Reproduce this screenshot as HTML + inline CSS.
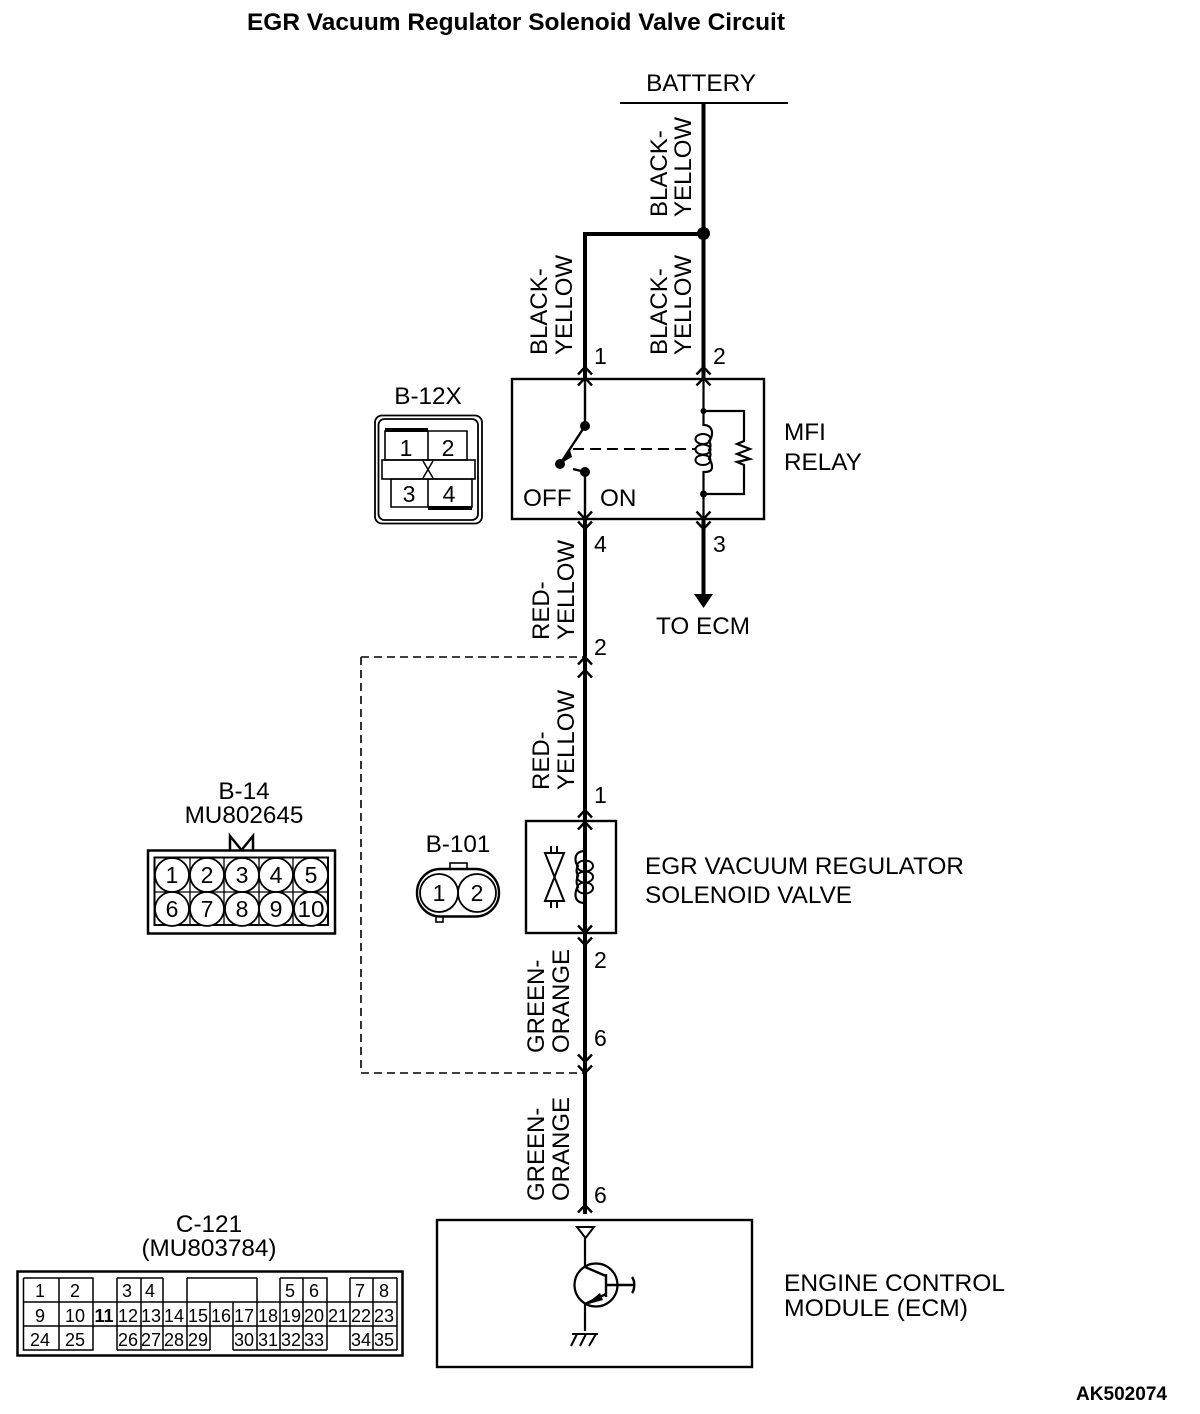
<!DOCTYPE html>
<html><head><meta charset="utf-8"><style>
html,body{margin:0;padding:0;background:#fff}
svg{display:block}
text{font-family:"Liberation Sans",sans-serif;font-size:24.3px;fill:#000}
.r text{font-size:24px}
.s{font-size:23px}.u{font-size:18px}
.m{text-anchor:middle}
</style></head><body>
<svg width="1200" height="1414" viewBox="0 0 1200 1414" xmlns="http://www.w3.org/2000/svg">
<defs>
<path id="up" d="M-7 7.500L0 0L7 7.500" fill="none" stroke="#000" stroke-width="2.400"/>
<path id="dn" d="M-7 -7.500L0 0L7 -7.500" fill="none" stroke="#000" stroke-width="2.400"/>
</defs>
<text x="247" y="30" style="font-weight:bold" textLength="538" lengthAdjust="spacingAndGlyphs">EGR Vacuum Regulator Solenoid Valve Circuit</text>
<text x="701" y="91" class="m">BATTERY</text>
<path d="M620 103H788" stroke="#000" stroke-width="2"/>
<g fill="none" stroke="#000" stroke-width="4">
<path d="M703.500 103V378M585 378V234H703"/>
<path d="M585 519V1214"/>
<path d="M703.500 519V598"/>
</g>
<circle cx="703.500" cy="233.500" r="6.500"/>
<path d="M694 594H713L703.500 608Z"/>
<g fill="none" stroke="#000" stroke-width="2">
<path d="M361 657H583M361 657V1073H583" stroke-dasharray="8 5" stroke-width="1.600"/>
<rect x="512" y="379" width="252" height="140" stroke-width="2.400"/>
<rect x="526" y="821" width="90" height="112" stroke-width="2.400"/>
<rect x="437" y="1220" width="315" height="147" stroke-width="2.400"/>
<path d="M585 378V426M585 472V519" stroke-width="2.400"/>
<path d="M585 426L560 464M573 469L585 472" stroke-width="2.400"/>
<path d="M573 449H695" stroke-dasharray="11 6" stroke-width="2"/>
<path d="M703.500 378V411H744V441L737 444L750 449L737 454L750 459L737 462L744 465V494H703.500V519" stroke-width="2.200"/>
<path d="M703.500 411V425C709 425 712 428 712 433C712 437 711 439 709 441C711 444 711 447 709 450C711 453 711 456 709 459C711 461 712 464 712 467C712 471 709 472 703.500 472V494" stroke-width="2.200"/>
<ellipse cx="703" cy="439" rx="7.500" ry="5" stroke-width="2"/>
<ellipse cx="703" cy="449.500" rx="7.500" ry="5" stroke-width="2"/>
<ellipse cx="703" cy="460" rx="7.500" ry="5" stroke-width="2"/>
<path d="M585 821V851C579 851 575.500 854 575.500 859C575.500 862 576 864 578 866C576 869 576 872 578 876C576 880 576 883 578 887C576 889 575.500 891 575.500 895C575.500 900 579 903 585 903V933" stroke-width="2.200"/>
<ellipse cx="585" cy="866" rx="8" ry="5.500" stroke-width="2"/>
<ellipse cx="585" cy="877" rx="8" ry="5.500" stroke-width="2"/>
<ellipse cx="585" cy="888" rx="8" ry="5.500" stroke-width="2"/>
<path d="M545 853H564L545 901H564ZM551 846V853M557 846V853M551 901V908M557 901V908" stroke-width="2"/>
<path d="M585 1238V1267M585 1304V1331" stroke-width="2.200"/>
<path d="M577 1227H594L585.500 1238Z" stroke-width="2"/>
<circle cx="596" cy="1285" r="21.500" stroke-width="2.200"/>
<path d="M606 1274V1297M585 1267L606 1276M585 1304L606 1294M606 1285H633M632 1277C635 1281 635 1289 632 1293" stroke-width="2.400"/>
<path d="M572 1334H598M577 1334L571 1346M586 1334L580 1346M596 1334L589 1346" stroke-width="2"/>
<rect x="375" y="415.500" width="107" height="108" rx="7" stroke-width="1.800"/>
<rect x="378.500" y="419" width="99.500" height="101" rx="6" stroke-width="1.800"/>
<path d="M385 431H467V460H385ZM428 431V460M391 479H472V507H391ZM428 479V507" stroke-width="1.600"/>
<rect x="382" y="460" width="93" height="19" stroke-width="1.600"/>
<path d="M423 461L433 478M433 461L423 478" stroke-width="1.500"/>
<path d="M385 430H428M428 508H472" stroke-width="4"/>
<rect x="148" y="850.500" width="187" height="83" stroke-width="2.500"/>
<rect x="154.500" y="857.500" width="173.500" height="67.500" stroke-width="2"/>
<path d="M190 857V925M224 857V925M259 857V925M293 857V925M154 892H328" stroke-width="1.300"/>
<path d="M230 850V836L241.500 850L253 836V850" stroke-width="2.500"/>
<g fill="#fff" stroke-width="1.800">
<circle cx="172" cy="875" r="17"/><circle cx="207" cy="875" r="17"/><circle cx="242" cy="875" r="17"/><circle cx="276" cy="875" r="17"/><circle cx="311" cy="875" r="17"/>
<circle cx="172" cy="909" r="17"/><circle cx="207" cy="909" r="17"/><circle cx="242" cy="909" r="17"/><circle cx="276" cy="909" r="17"/><circle cx="311" cy="909" r="17"/>
</g>
<rect x="450" y="863" width="17" height="6" stroke-width="1.600"/>
<rect x="436" y="916" width="7" height="6" stroke-width="1.600"/>
<rect x="417" y="869" width="82" height="47.500" rx="23.500" fill="#fff" stroke-width="2.400"/>
<circle cx="439" cy="893" r="19" stroke-width="1.800"/><circle cx="477" cy="893" r="19" stroke-width="1.800"/>
<rect x="17.500" y="1271.500" width="385" height="84" stroke-width="2.500"/>
<path d="M23.500 1278H93V1302M59 1278V1350M23.500 1278V1350H93V1326M23.500 1302H397M23.500 1326H397M93 1302V1326M117 1278V1350M141 1278V1350M163 1278V1350M187 1278V1350M210 1302V1350M233 1302V1350M257 1278V1350M280 1278V1350M303 1278V1350M327 1302V1350M350 1278V1350M373 1278V1350M397 1278V1350M117 1278H163M187 1278H257M280 1278H327V1302M350 1278H397M117 1350H210M233 1350H327M350 1350H397" stroke-width="1.500"/>
</g>
<use href="#up" x="585" y="367"/><use href="#up" x="585" y="378"/>
<use href="#up" x="703.500" y="367"/><use href="#up" x="703.500" y="378"/>
<use href="#dn" x="585" y="519"/><use href="#dn" x="585" y="529"/>
<use href="#dn" x="703.500" y="519"/><use href="#dn" x="703.500" y="529"/>
<use href="#up" x="585" y="657"/><use href="#up" x="585" y="670"/>
<use href="#up" x="585" y="810"/><use href="#up" x="585" y="822"/>
<use href="#dn" x="585" y="933"/><use href="#dn" x="585" y="945"/>
<use href="#dn" x="585" y="1062"/><use href="#dn" x="585" y="1073"/>
<use href="#up" x="585" y="1205"/>
<circle cx="585" cy="426" r="5"/><circle cx="560" cy="464" r="5"/><circle cx="585" cy="472" r="5"/>
<circle cx="703.500" cy="411" r="3"/><circle cx="703.500" cy="494" r="3.500"/>
<path d="M560 464L570 450L572 457Z"/>
<path d="M585 1305L600 1293L603 1300Z"/>
<g transform="rotate(-90)" class="r">
<text x="-217" y="667">BLACK-</text><text x="-217" y="691">YELLOW</text>
<text x="-355" y="667">BLACK-</text><text x="-355" y="691">YELLOW</text>
<text x="-355" y="547">BLACK-</text><text x="-355" y="572">YELLOW</text>
<text x="-640" y="549">RED-</text><text x="-640" y="574">YELLOW</text>
<text x="-790" y="549">RED-</text><text x="-790" y="574">YELLOW</text>
<text x="-1053" y="544">GREEN-</text><text x="-1053" y="569">ORANGE</text>
<text x="-1201" y="544">GREEN-</text><text x="-1201" y="569">ORANGE</text>
</g>
<text x="594" y="364" class="s">1</text><text x="713" y="364" class="s">2</text>
<text x="594" y="552" class="s">4</text><text x="713" y="552" class="s">3</text>
<text x="594" y="655" class="s">2</text><text x="594" y="803" class="s">1</text>
<text x="594" y="968" class="s">2</text><text x="594" y="1046" class="s">6</text><text x="594" y="1203" class="s">6</text>
<text x="784" y="440">MFI</text><text x="784" y="470">RELAY</text>
<text x="523" y="506">OFF</text><text x="600" y="506">ON</text>
<text x="656" y="634">TO ECM</text>
<text x="645" y="874" textLength="319" lengthAdjust="spacingAndGlyphs">EGR VACUUM REGULATOR</text><text x="645" y="903" textLength="207" lengthAdjust="spacingAndGlyphs">SOLENOID VALVE</text>
<text x="784" y="1291" textLength="221" lengthAdjust="spacingAndGlyphs">ENGINE CONTROL</text><text x="784" y="1316" textLength="184" lengthAdjust="spacingAndGlyphs">MODULE (ECM)</text>
<text x="209" y="1232" class="m">C-121</text><text x="209" y="1256" class="m">(MU803784)</text>
<text x="244" y="799" class="m">B-14</text><text x="244" y="823" class="m">MU802645</text>
<text x="458" y="852" class="m">B-101</text><text x="428" y="404" class="m">B-12X</text>
<text x="1076" y="1400" style="font-size:19px;font-weight:bold" textLength="91" lengthAdjust="spacingAndGlyphs">AK502074</text>
<g text-anchor="middle">
<text x="406" y="456" class="s">1</text><text x="448" y="456" class="s">2</text>
<text x="409" y="502" class="s">3</text><text x="449" y="502" class="s">4</text>
<text x="172" y="883" class="s">1</text><text x="207" y="883" class="s">2</text><text x="242" y="883" class="s">3</text><text x="276" y="883" class="s">4</text><text x="311" y="883" class="s">5</text>
<text x="172" y="917" class="s">6</text><text x="207" y="917" class="s">7</text><text x="242" y="917" class="s">8</text><text x="276" y="917" class="s">9</text><text x="311" y="917" class="s" textLength="27" lengthAdjust="spacingAndGlyphs">10</text>
<text x="439" y="901" class="s">1</text><text x="477" y="901" class="s">2</text>
<text x="40" y="1297" class="u">1</text><text x="75" y="1297" class="u">2</text><text x="127" y="1297" class="u">3</text><text x="150" y="1297" class="u">4</text><text x="290" y="1297" class="u">5</text><text x="314" y="1297" class="u">6</text><text x="360" y="1297" class="u">7</text><text x="384" y="1297" class="u">8</text>
<text x="40" y="1322" class="u">9</text><text x="75" y="1322" class="u">10</text><text x="104" y="1322" class="u" style="font-weight:bold">11</text><text x="128" y="1322" class="u">12</text><text x="151" y="1322" class="u">13</text><text x="174" y="1322" class="u">14</text><text x="198" y="1322" class="u">15</text><text x="221" y="1322" class="u">16</text><text x="244" y="1322" class="u">17</text><text x="268" y="1322" class="u">18</text><text x="291" y="1322" class="u">19</text><text x="314" y="1322" class="u">20</text><text x="338" y="1322" class="u">21</text><text x="361" y="1322" class="u">22</text><text x="384" y="1322" class="u">23</text>
<text x="40" y="1346" class="u">24</text><text x="75" y="1346" class="u">25</text><text x="128" y="1346" class="u">26</text><text x="151" y="1346" class="u">27</text><text x="174" y="1346" class="u">28</text><text x="198" y="1346" class="u">29</text><text x="244" y="1346" class="u">30</text><text x="268" y="1346" class="u">31</text><text x="291" y="1346" class="u">32</text><text x="314" y="1346" class="u">33</text><text x="361" y="1346" class="u">34</text><text x="384" y="1346" class="u">35</text>
</g>
</svg>
</body></html>
